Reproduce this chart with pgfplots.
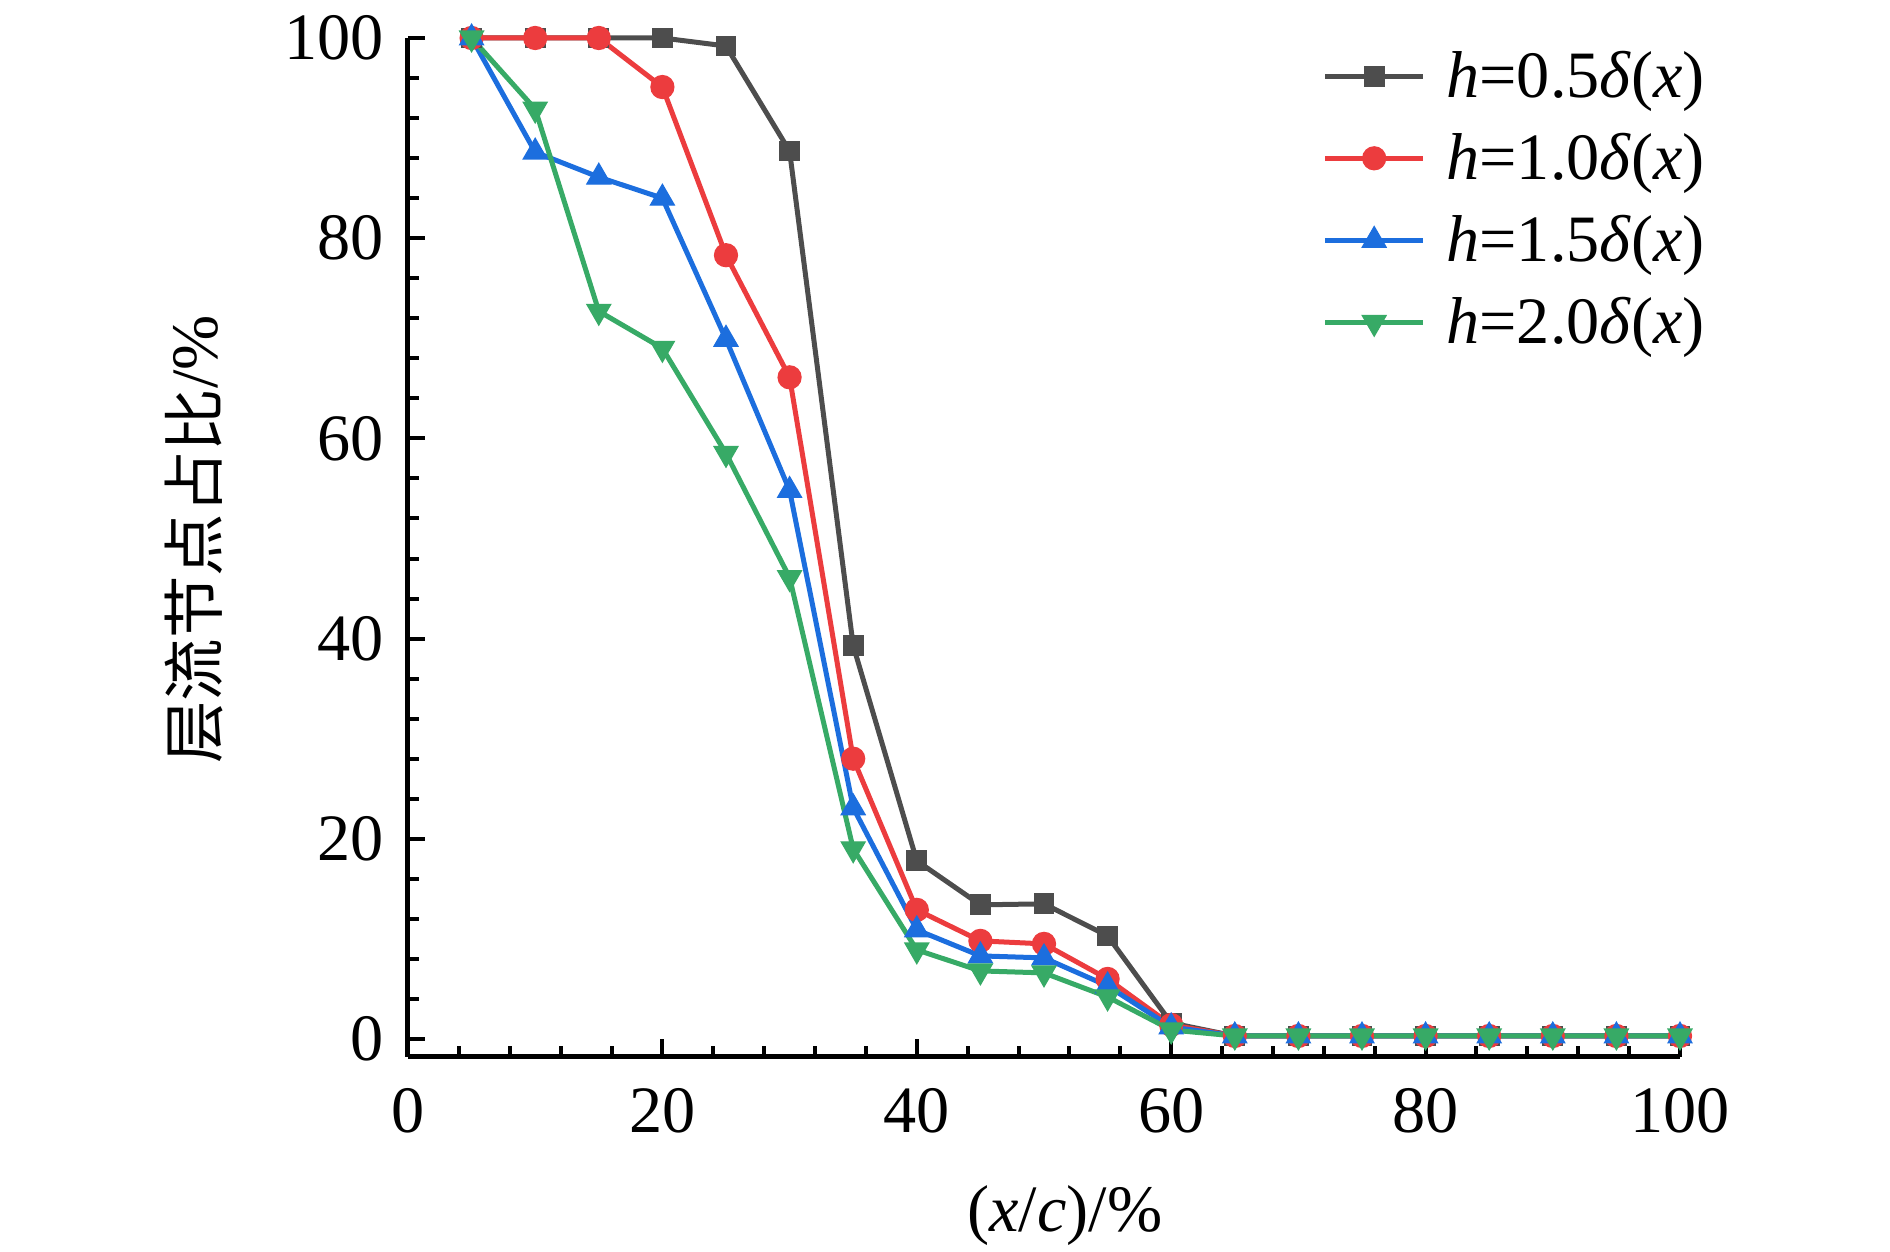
\documentclass[border=0pt]{standalone}
\usepackage{fontspec}
\setmainfont{Liberation Serif}
\newfontfamily\cjk{Noto Sans CJK SC}
\usepackage{pgfplots}
\pgfplotsset{compat=1.18}
\definecolor{cgray}{RGB}{77,77,77}
\definecolor{cred}{RGB}{236,60,62}
\definecolor{cblue}{RGB}{28,110,222}
\definecolor{cgreen}{RGB}{55,170,102}
\begin{document}
\begin{tikzpicture}
\begin{axis}[
  scale only axis, width=508.8pt, height=407.6pt,
  xmin=0, xmax=100, ymin=-1.8, ymax=100,
  axis x line*=bottom, axis y line*=left,
  axis line style={line width=2pt, black},
  xtick={0,20,...,100}, ytick={0,20,...,100},
  minor tick num=4,
  tick align=inside,
  major tick length=7pt, minor tick length=4.4pt,
  every tick/.style={line width=1.6pt, black},
  /pgf/number format/assume math mode=true,
  ticklabel style={font=\fontsize{26.5}{30}\selectfont},
  xticklabel style={inner sep=0pt, anchor=north, yshift=-12.4pt},
  yticklabel style={inner sep=0pt, anchor=east, xshift=-9.6pt},
  xlabel={(\textit{x}/\textit{c})/\%},
  xlabel style={font=\fontsize{26.5}{30}\selectfont, at={(axis description cs:0.5165,-0.156)}, anchor=center},
  ylabel={{\fontsize{25}{30}\selectfont\cjk 层流节点占比}/\%},
  ylabel style={font=\fontsize{26.5}{30}\selectfont, at={(axis description cs:-0.168,0.508)}, anchor=center},
  clip=false,
  legend style={draw=none, fill=none, inner sep=0pt, outer sep=0pt,
    at={(axis description cs:0.7193,0.987)}, anchor=north west,
    font=\fontsize{26.5}{30}\selectfont, row sep=12.8pt,
    nodes={inner sep=0pt},
    /tikz/every odd column/.append style={column sep=8.4pt}},
  legend cell align=left,
  legend image code/.code={\draw[mark repeat=2,mark phase=2,#1] plot coordinates {(0pt,0pt) (19.5pt,0pt) (39pt,0pt)};},
]
\addplot[cgray, line width=2pt, mark=square*, mark size=3.9pt, mark options={solid, fill=cgray, line width=0.5pt}] coordinates {
(5,100) (10,100) (15,100) (20,100) (25,99.2) (30,88.7) (35,39.3) (40,17.8) (45,13.4) (50,13.5)
(55,10.3) (60,1.6) (65,0.3) (70,0.3) (75,0.3) (80,0.3) (85,0.3) (90,0.3) (95,0.3) (100,0.3)};
\addlegendentry{\textit{h}=0.5\textit{δ}(\textit{x})}
\addplot[cred, line width=2pt, mark=*, mark size=4.6pt, mark options={solid, fill=cred, line width=0.5pt}] coordinates {
(5,100) (10,100) (15,100) (20,95.1) (25,78.3) (30,66.1) (35,28.0) (40,12.9) (45,9.8) (50,9.5)
(55,6.0) (60,1.4) (65,0.3) (70,0.3) (75,0.3) (80,0.3) (85,0.3) (90,0.3) (95,0.3) (100,0.3)};
\addlegendentry{\textit{h}=1.0\textit{δ}(\textit{x})}
\addplot[cblue, line width=2pt, mark=triangle*, mark size=5.5pt, mark options={solid, fill=cblue, line width=0.5pt}] coordinates {
(5,100) (10,88.6) (15,86.1) (20,84.0) (25,69.9) (30,54.8) (35,23.1) (40,10.9) (45,8.3) (50,8.1)
(55,5.3) (60,1.2) (65,0.3) (70,0.3) (75,0.3) (80,0.3) (85,0.3) (90,0.3) (95,0.3) (100,0.3)};
\addlegendentry{\textit{h}=1.5\textit{δ}(\textit{x})}
\addplot[cgreen, line width=2pt, mark=triangle*, mark size=5.5pt, mark options={solid, rotate=180, fill=cgreen, line width=0.5pt}] coordinates {
(5,100) (10,92.9) (15,72.7) (20,69.0) (25,58.5) (30,46.1) (35,19.0) (40,8.9) (45,6.8) (50,6.6)
(55,4.2) (60,0.9) (65,0.3) (70,0.3) (75,0.3) (80,0.3) (85,0.3) (90,0.3) (95,0.3) (100,0.3)};
\addlegendentry{\textit{h}=2.0\textit{δ}(\textit{x})}
\end{axis}
\pgfresetboundingbox
\path ([shift={(-163.2pt,-78pt)}]current axis.south west) rectangle ([shift={(84pt,15.2pt)}]current axis.north east);
\end{tikzpicture}
\end{document}
